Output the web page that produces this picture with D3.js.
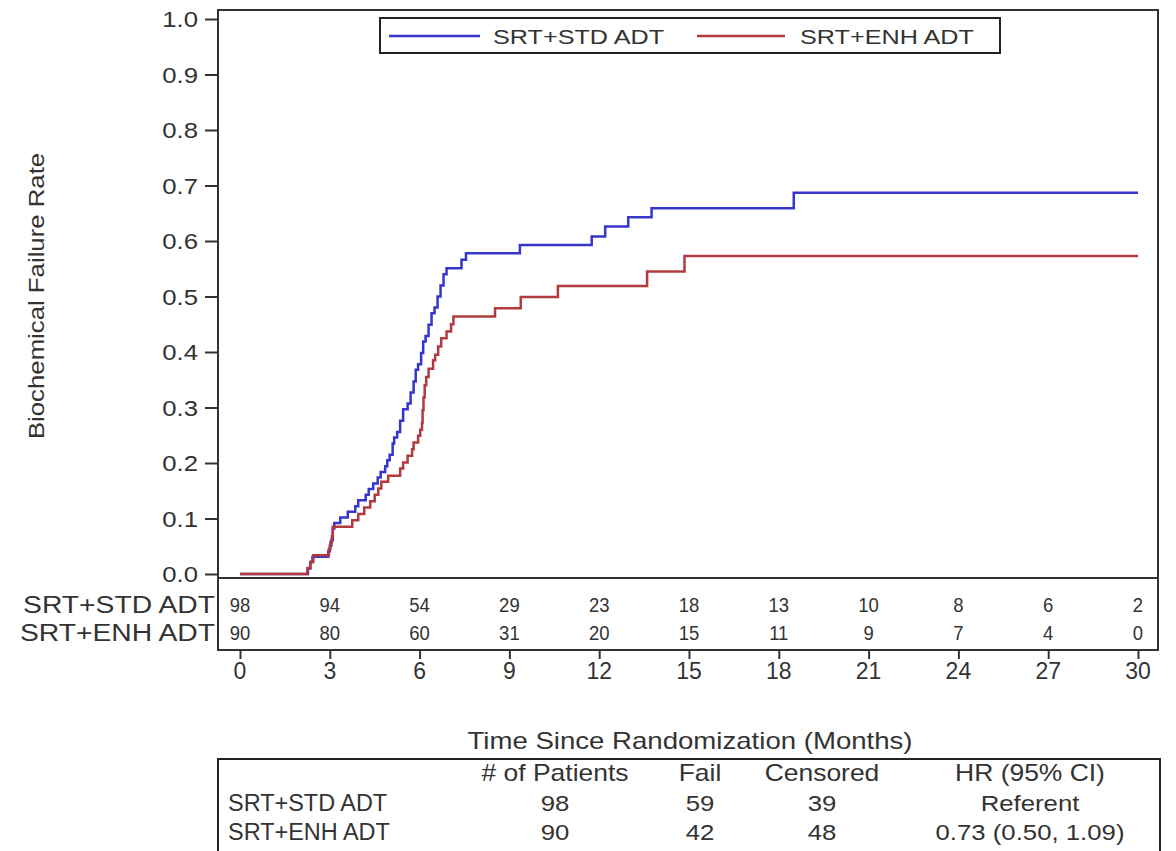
<!DOCTYPE html>
<html>
<head>
<meta charset="utf-8">
<script src="https://cdn.jsdelivr.net/npm/d3@7"></script>
<style>
body { margin: 0; background: #fff; }
text { font-family: "Liberation Sans", Arial, sans-serif; fill: #333; }
</style>
</head>
<body>
<script>
// step curves (months, failure rate)
var stdTime = [0, 2.27, 2.35, 2.42, 2.95, 3.0, 3.05, 3.1, 3.15, 3.35, 3.6, 3.85, 3.95, 4.2, 4.3, 4.45, 4.6, 4.7, 4.85, 4.92, 5.0, 5.1, 5.15, 5.25, 5.35, 5.45, 5.6, 5.7, 5.8, 5.87, 5.95, 6.05, 6.12, 6.2, 6.3, 6.4, 6.5, 6.6, 6.7, 6.8, 6.9, 7.4, 7.55, 9.35, 11.75, 12.2, 12.97, 13.75, 18.5, 30];
var stdRate = [0, 0.010, 0.021, 0.031, 0.041, 0.051, 0.061, 0.082, 0.092, 0.102, 0.112, 0.122, 0.133, 0.143, 0.153, 0.163, 0.174, 0.184, 0.194, 0.205, 0.215, 0.235, 0.246, 0.256, 0.276, 0.297, 0.307, 0.327, 0.347, 0.368, 0.378, 0.398, 0.419, 0.429, 0.449, 0.47, 0.48, 0.5, 0.52, 0.54, 0.551, 0.566, 0.578, 0.593, 0.608, 0.626, 0.643, 0.659, 0.687, 0.687];

var enhTime = [0, 2.25, 2.35, 2.45, 2.97, 3.02, 3.07, 3.1, 3.75, 3.95, 4.15, 4.35, 4.5, 4.62, 4.72, 4.95, 5.35, 5.45, 5.6, 5.75, 5.8, 5.95, 6.02, 6.08, 6.1, 6.13, 6.17, 6.22, 6.3, 6.45, 6.52, 6.62, 6.72, 6.9, 7.05, 7.13, 8.52, 9.38, 10.62, 13.6, 14.85, 30];
var enhRate = [0, 0.011, 0.022, 0.034, 0.045, 0.057, 0.068, 0.085, 0.097, 0.108, 0.12, 0.131, 0.143, 0.154, 0.166, 0.177, 0.19, 0.201, 0.213, 0.225, 0.237, 0.249, 0.26, 0.272, 0.295, 0.318, 0.34, 0.355, 0.37, 0.385, 0.395, 0.41, 0.425, 0.437, 0.45, 0.464, 0.479, 0.499, 0.519, 0.545, 0.573, 0.573];

var groups = ["SRT+STD ADT", "SRT+ENH ADT"];
var colors = ["#3636cc", "#b23a3e"];

var xTicks = [0, 3, 6, 9, 12, 15, 18, 21, 24, 27, 30];
var yTicks = [0, 0.1, 0.2, 0.3, 0.4, 0.5, 0.6, 0.7, 0.8, 0.9, 1.0];
var stdAtRisk = [98, 94, 54, 29, 23, 18, 13, 10, 8, 6, 2];
var enhAtRisk = [90, 80, 60, 31, 20, 15, 11, 9, 7, 4, 0];

var tableHead = ["# of Patients", "Fail", "Censored", "HR (95% CI)"];
var stdRow = ["98", "59", "39", "Referent"];
var enhRow = ["90", "42", "48", "0.73 (0.50, 1.09)"];

var svg = d3.select('body').append('svg')
    .attr('width', 1176)
    .attr('height', 851);

var x = d3.scaleLinear().domain([0, 30]).range([240, 1138]);
var y = d3.scaleLinear().domain([0, 1]).range([574, 19]);

// text helper, the picture's lettering is a bit wide
function label(px, py, str, size, anchor, sx, rot) {
    return svg.append('text')
        .attr('transform', 'translate(' + px + ',' + py + ')' + (rot ? ' rotate(' + rot + ')' : '') + ' scale(' + sx + ',1)')
        .attr('text-anchor', anchor)
        .style('font-size', size + 'px')
        .text(str);
}

// frame around plot + at risk rows
svg.append('rect')
    .attr('x', 218).attr('y', 10)
    .attr('width', 940).attr('height', 640)
    .attr('fill', 'none')
    .attr('stroke', '#333')
    .attr('stroke-width', 2);

svg.append('line')
    .attr('x1', 218).attr('x2', 1158)
    .attr('y1', 578).attr('y2', 578)
    .attr('stroke', '#333')
    .attr('stroke-width', 2);

// y axis ticks
var yAxis = svg.append('g')
    .attr('transform', 'translate(218,0)')
    .call(d3.axisLeft(y).tickValues(yTicks).tickFormat('').tickSize(13));
yAxis.select('.domain').remove();
yAxis.selectAll('line').attr('stroke', '#333').attr('stroke-width', 2);

yTicks.forEach(function(t){
    label(198, y(t) + 8, d3.format('.1f')(t), 23, 'end', 1.12);
});

label(44, 296, 'Biochemical Failure Rate', 23, 'middle', 1.12, -90).attr('fill', '#555');

// x axis under the frame
var xAxis = svg.append('g')
    .attr('transform', 'translate(0,650)')
    .call(d3.axisBottom(x).tickValues(xTicks).tickFormat('').tickSize(9));
xAxis.select('.domain').remove();
xAxis.selectAll('line').attr('stroke', '#333').attr('stroke-width', 2);

xTicks.forEach(function(t){
    label(x(t), 679, t, 23, 'middle', 1.0);
});

label(690, 749, 'Time Since Randomization (Months)', 23, 'middle', 1.2);

// curves
var line = d3.line()
    .x(function(d){ return x(d[0]); })
    .y(function(d){ return y(d[1]); })
    .curve(d3.curveStepAfter);

var series = [d3.zip(stdTime, stdRate), d3.zip(enhTime, enhRate)];

svg.selectAll('path.km')
    .data(series)
    .enter()
    .append('path')
    .attr('class', 'km')
    .attr('d', line)
    .attr('fill', 'none')
    .attr('stroke', function(d, i){ return colors[i]; })
    .attr('stroke-width', 2.5);

// legend
svg.append('rect')
    .attr('x', 380).attr('y', 18)
    .attr('width', 620).attr('height', 35)
    .attr('fill', 'white')
    .attr('stroke', '#222')
    .attr('stroke-width', 2);

var legX = [[389, 480, 493], [697, 785, 800]];
groups.forEach(function(g, i){
    svg.append('line')
        .attr('x1', legX[i][0]).attr('x2', legX[i][1])
        .attr('y1', 36).attr('y2', 36)
        .attr('stroke', colors[i])
        .attr('stroke-width', 2.5);
    label(legX[i][2], 44, g, 21, 'start', 1.2);
});

// at risk numbers
var riskRows = [stdAtRisk, enhAtRisk];
var riskY = [605, 633];
riskRows.forEach(function(row, r){
    label(215, riskY[r] + 8, groups[r], 23, 'end', 1.23);
    row.forEach(function(d, i){
        label(x(xTicks[i]), riskY[r] + 7, d, 21, 'middle', 0.88);
    });
});

// summary table
svg.append('rect')
    .attr('x', 218).attr('y', 759)
    .attr('width', 942).attr('height', 120)
    .attr('fill', 'none')
    .attr('stroke', '#222')
    .attr('stroke-width', 2);

var colX = [555, 700, 822, 1030];
var rowY = [781, 811, 840];

tableHead.forEach(function(d, i){
    label(colX[i], rowY[0], d, 23, 'middle', 1.15);
});

[stdRow, enhRow].forEach(function(row, r){
    label(228, rowY[r + 1], groups[r], 23, 'start', 1.02);
    row.forEach(function(d, i){
        label(colX[i], rowY[r + 1], d, 23, 'middle', 1.12);
    });
});
</script>
</body>
</html>
